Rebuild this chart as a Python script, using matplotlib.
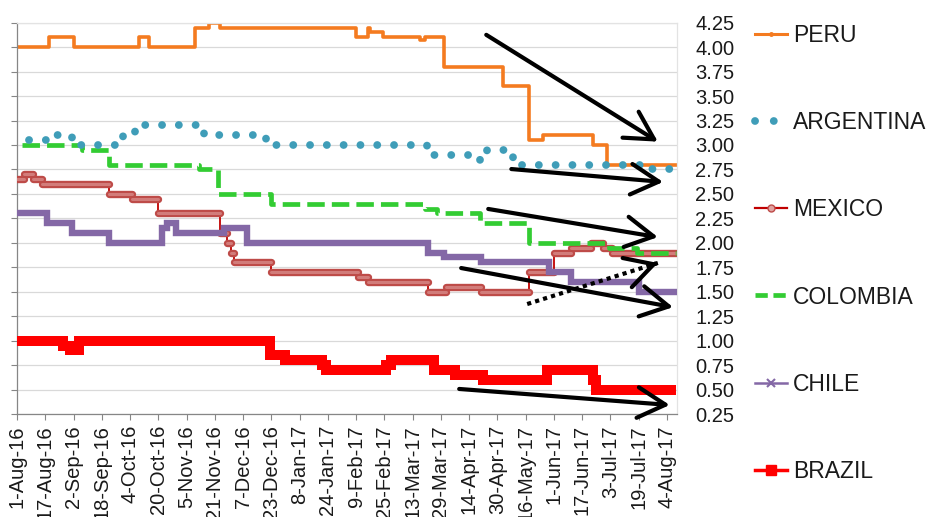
import numpy as np
import pandas as pd
import matplotlib
matplotlib.use('Agg')
import matplotlib.pyplot as plt
from matplotlib.lines import Line2D

plt.rcParams['font.family'] = ['Liberation Sans', 'DejaVu Sans']
plt.rcParams['text.color'] = '#1a1a1a'

# ---- data (change points of each series; last row = end of line) ----
peru_dates = ['2016-08-01', '2016-08-19', '2016-09-02', '2016-10-09', '2016-10-15', '2016-11-10',
              '2016-11-18', '2016-11-24', '2017-02-09', '2017-02-16', '2017-02-17', '2017-02-24',
              '2017-03-17', '2017-03-20', '2017-03-31', '2017-05-03', '2017-05-18', '2017-05-26',
              '2017-06-23', '2017-07-01', '2017-08-09']
peru_vals = [4.00, 4.10, 4.00, 4.10, 4.00, 4.20, 4.25, 4.20, 4.10, 4.20, 4.15, 4.10,
             4.07, 4.10, 3.80, 3.60, 3.05, 3.10, 3.00, 2.80, 2.80]

argentina_dates = ['2016-08-08', '2016-08-22', '2016-09-01', '2016-09-30', '2016-10-07', '2016-11-15',
                   '2016-12-20', '2017-03-21', '2017-04-20', '2017-04-24', '2017-05-04', '2017-05-09',
                   '2017-05-14', '2017-07-22', '2017-08-09']
argentina_vals = [3.05, 3.10, 3.00, 3.10, 3.20, 3.10, 3.00, 2.90, 2.85, 2.95, 2.90, 2.85,
                  2.80, 2.75, 2.75]

mexico_dates = ['2016-08-01', '2016-08-05', '2016-08-10', '2016-08-15', '2016-09-22', '2016-10-05',
                '2016-10-20', '2016-11-24', '2016-11-28', '2016-11-30', '2016-12-02', '2016-12-23',
                '2017-02-10', '2017-02-16', '2017-03-22', '2017-04-01', '2017-04-21', '2017-05-18',
                '2017-06-01', '2017-06-11', '2017-06-22', '2017-06-29', '2017-07-04', '2017-08-09']
mexico_vals = [2.65, 2.70, 2.65, 2.60, 2.50, 2.45, 2.30, 2.10, 2.00, 1.90, 1.80, 1.70,
               1.65, 1.60, 1.50, 1.55, 1.50, 1.70, 1.90, 1.95, 2.00, 1.95, 1.90, 1.90]

colombia_dates = ['2016-08-04', '2016-09-07', '2016-09-22', '2016-11-12', '2016-11-23', '2016-12-23',
                  '2017-03-20', '2017-03-27', '2017-04-20', '2017-05-18', '2017-07-02', '2017-07-18',
                  '2017-08-09']
colombia_vals = [3.00, 2.95, 2.80, 2.75, 2.50, 2.40, 2.35, 2.30, 2.20, 2.00, 1.95, 1.90, 1.90]

chile_dates = ['2016-08-01', '2016-08-18', '2016-09-01', '2016-09-22', '2016-10-22', '2016-10-25',
               '2016-10-30', '2016-11-26', '2016-12-09', '2017-03-22', '2017-03-31', '2017-04-21',
               '2017-05-29', '2017-06-11', '2017-07-19', '2017-08-09']
chile_vals = [2.30, 2.20, 2.10, 2.00, 2.15, 2.20, 2.10, 2.15, 2.00, 1.90, 1.85, 1.80,
              1.70, 1.60, 1.50, 1.50]

brazil_dates = ['2016-08-01', '2016-08-27', '2016-08-31', '2016-09-05', '2016-12-22', '2016-12-31',
                '2017-01-21', '2017-01-23', '2017-02-26', '2017-03-01', '2017-03-25', '2017-04-06',
                '2017-04-22', '2017-05-28', '2017-06-23', '2017-06-25', '2017-08-09']
brazil_vals = [1.00, 0.95, 0.90, 1.00, 0.85, 0.80, 0.75, 0.70, 0.75, 0.80, 0.70, 0.65,
               0.60, 0.70, 0.60, 0.50, 0.50]

labels = ['PERU', 'ARGENTINA', 'MEXICO', 'COLOMBIA', 'CHILE', 'BRAZIL']
y_ticks = np.arange(0.25, 4.26, 0.25)
x_ticks = pd.date_range('2016-08-01', '2017-08-04', freq='16D')

# hand drawn trend arrows (axes fraction: x0, y0, x1, y1)
arrows = [(0.711, 0.969, 0.971, 0.696),
          (0.749, 0.626, 0.979, 0.593),
          (0.714, 0.524, 0.971, 0.452),
          (0.673, 0.373, 0.994, 0.273),
          (0.670, 0.064, 0.989, 0.023)]
dotted_arrow = (0.773, 0.281, 0.971, 0.386)

C_PERU, C_ARG, C_MEX, C_COL, C_CHI, C_BRA = '#F47B20', '#3F9DB8', '#BE4B48', '#33CC33', '#8468A6', '#FF0000'

fig = plt.figure(figsize=(9.28, 5.17), dpi=100)
ax = fig.add_axes([17/928, 103/517, 660/928, 391.3/517])

def dt(d):
    return pd.to_datetime(d)

# ---- series ----
ax.step(dt(peru_dates), peru_vals, where='post', color=C_PERU, lw=2.6, zorder=2)

# mexico: banded markers on the flat parts, thin red line on the jumps
md = dt(mexico_dates)
ax.step(md, mexico_vals, where='post', color='#C00000', lw=1.3, zorder=3)
ax.hlines(mexico_vals[:-1], md[:-1], md[1:], color=C_MEX, lw=5.3, capstyle='round', zorder=3)
ax.hlines(mexico_vals[:-1], md[:-1], md[1:], color='#D27C7A', lw=2.2, capstyle='round', zorder=3)

ax.step(dt(chile_dates), chile_vals, where='post', color=C_CHI, lw=4.6,
        solid_joinstyle='miter', zorder=3)
ax.step(dt(brazil_dates), brazil_vals, where='post', color=C_BRA, lw=7.2,
        solid_joinstyle='miter', solid_capstyle='butt', zorder=3)
ax.step(dt(colombia_dates), colombia_vals, where='post', color=C_COL, lw=3.4,
        linestyle=(0, (3.7, 1.5)), zorder=4)
ax.step(dt(argentina_dates), argentina_vals, where='post', color=C_ARG, lw=5.6,
        linestyle=(0, (0.01, 2.15)), dash_capstyle='round', zorder=5)

# ---- arrows ----
head = '->,head_length=1.0,head_width=0.55'
for x0, y0, x1, y1 in arrows:
    ax.annotate('', xy=(x1, y1), xytext=(x0, y0), xycoords='axes fraction',
                arrowprops=dict(arrowstyle=head, lw=3, color='black', mutation_scale=20,
                                shrinkA=0, shrinkB=0), annotation_clip=False, zorder=6)
x0, y0, x1, y1 = dotted_arrow
ax.plot([x0, x1], [y0, y1], transform=ax.transAxes, color='black', lw=3,
        linestyle=(0, (1, 1)), clip_on=False, zorder=6)
ax.annotate('', xy=(x1, y1), xytext=(x1 - 0.02*(x1-x0), y1 - 0.02*(y1-y0)), xycoords='axes fraction',
            arrowprops=dict(arrowstyle=head, lw=3, color='black', mutation_scale=20,
                            shrinkA=0, shrinkB=0), annotation_clip=False, zorder=6)

# ---- axes ----
ax.set_xlim(dt('2016-08-01'), dt('2017-08-09 18:00'))
ax.set_ylim(0.25, 4.25)
ax.set_yticks(y_ticks)
ax.set_yticklabels([f'{v:.2f}' for v in y_ticks])
ax.set_xticks(x_ticks)
ax.set_xticklabels([f'{d.day}-{d.strftime("%b-%y")}' for d in x_ticks], rotation=90, va='top')
ax.grid(axis='y', color='#D9D9D9', lw=0.9)
ax.set_axisbelow(True)
ax.tick_params(axis='y', left=True, right=False, labelleft=False, labelright=True,
               direction='out', length=4, color='#868686', labelsize=14.5, pad=9,
               labelcolor='#1a1a1a')
ax.tick_params(axis='x', direction='out', length=4, color='#868686', labelsize=14.5, pad=4,
               labelcolor='#1a1a1a')
for s in ['left', 'bottom']:
    ax.spines[s].set_color('#868686')
    ax.spines[s].set_linewidth(0.9)
for s in ['right', 'top']:
    ax.spines[s].set_color('#E3E3E3')
    ax.spines[s].set_linewidth(0.9)

# ---- legend ----
handles = [
    Line2D([], [], color=C_PERU, lw=2.2, marker='o', ms=2.5),
    Line2D([], [], color=C_ARG, lw=5.6, linestyle=(0, (0.01, 2.4)), dash_capstyle='round'),
    Line2D([], [], color='#C00000', lw=1.6, marker='o', ms=5, mfc='#E0A3A1', mec=C_MEX),
    Line2D([], [], color=C_COL, lw=3.4, linestyle=(0, (2.6, 1.2))),
    Line2D([], [], color=C_CHI, lw=1.8, marker='x', ms=6, mew=1.5),
    Line2D([], [], color=C_BRA, lw=2.5, marker='s', ms=7),
]
fig.legend(handles, labels, loc='upper left', bbox_to_anchor=(755/928, 1 - 24/517),
           frameon=False, fontsize=16.5, handlelength=1.4, handletextpad=0.25,
           labelspacing=2.8, borderpad=0, borderaxespad=0)

fig.savefig('out.png', dpi=100)
